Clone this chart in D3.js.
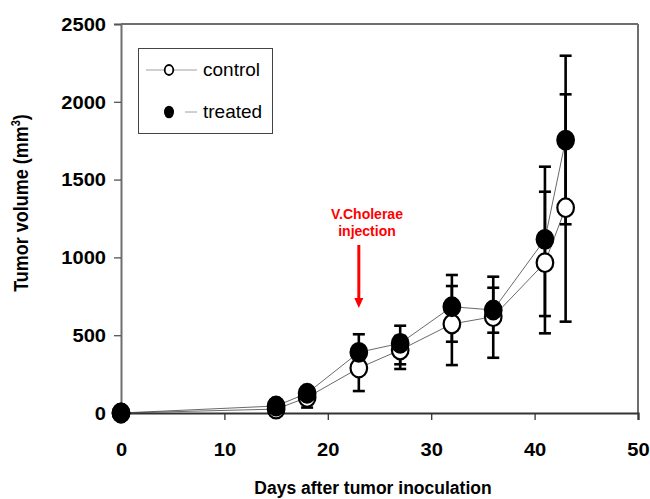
<!DOCTYPE html>
<html>
<head>
<meta charset="utf-8">
<script src="https://cdn.jsdelivr.net/npm/d3@7"></script>
<style>
  html, body { margin: 0; padding: 0; background: #fff; }
  svg { display: block; font-family: "Liberation Sans", Arial, sans-serif; }
</style>
</head>
<body>
<svg id="chart" width="650" height="499"></svg>
<script>
// ---- data ----
const days          = [0, 15, 18, 23, 27, 32, 36, 41, 43];
const controlMean   = [0, 25, 100, 289, 405, 572, 619, 966, 1319];
const controlUpper  = [0, 35, 150, 430, 495, 816, 805, 1422, 2048];
const controlLower  = [0, 15, 35, 141, 283, 308, 355, 512, 587];
const treatedMean   = [0, 45, 127, 390, 448, 683, 662, 1116, 1754];
const treatedUpper  = [0, 60, 165, 506, 561, 887, 876, 1583, 2296];
const treatedLower  = [0, 30, 95, 273, 313, 458, 516, 623, 1213];
const xTicks = [0, 10, 20, 30, 40, 50];
const yTicks = [0, 500, 1000, 1500, 2000, 2500];
const seriesNames = ["control", "treated"];
const injectionDay = 23;
const annotationLines = ["V.Cholerae", "injection"];
const xTitle = "Days after tumor inoculation";

const svg = d3.select("#chart");
const x = d3.scaleLinear().domain([0, 50]).range([121, 638]);
const y = d3.scaleLinear().domain([0, 2500]).range([413, 24]);

const control = days.map((d, i) => ({d, m: controlMean[i], hi: controlUpper[i], lo: controlLower[i]}));
const treated = days.map((d, i) => ({d, m: treatedMean[i], hi: treatedUpper[i], lo: treatedLower[i]}));

// frame (top & right)
svg.append("line").attr("x1", x(0)).attr("x2", x(50)).attr("y1", y(2500)).attr("y2", y(2500))
  .attr("stroke", "#6e6e6e").attr("stroke-width", 2);
svg.append("line").attr("x1", x(50)).attr("x2", x(50)).attr("y1", y(2500)).attr("y2", y(0))
  .attr("stroke", "#6e6e6e").attr("stroke-width", 2);

// y axis
const yAxis = svg.append("g").attr("transform", `translate(${x(0)},0)`)
  .call(d3.axisLeft(y).tickValues(yTicks).tickSize(7).tickPadding(0).tickFormat(d3.format("d")));
yAxis.select(".domain").attr("stroke", "#6e6e6e").attr("stroke-width", 2);
yAxis.selectAll(".tick line").attr("stroke", "#555").attr("stroke-width", 1.3);
yAxis.selectAll(".tick text")
  .attr("x", -15 / 1.15).attr("dy", "0.36em")
  .attr("transform", "scale(1.15,1)")
  .attr("font-size", 17.5).attr("font-weight", "bold").attr("fill", "#000")
  .attr("font-family", "'Liberation Sans', Arial, sans-serif");

// x axis
const xAxis = svg.append("g").attr("transform", `translate(0,${y(0)})`)
  .call(d3.axisBottom(x).tickValues(xTicks).tickSize(7).tickFormat(d3.format("d")));
xAxis.select(".domain").attr("stroke", "#333").attr("stroke-width", 2.2);
xAxis.selectAll(".tick line").attr("stroke", "#333").attr("stroke-width", 1.3);
xAxis.selectAll(".tick text")
  .attr("y", 43).attr("dy", 0).attr("x", 0)
  .attr("transform", "scale(1.15,1)")
  .attr("font-size", 17.5).attr("font-weight", "bold").attr("fill", "#000")
  .attr("font-family", "'Liberation Sans', Arial, sans-serif");

// axis titles
svg.append("text")
  .attr("transform", "translate(28,203) rotate(-90) scale(1,1.15)")
  .attr("text-anchor", "middle").attr("font-size", 18).attr("font-weight", "bold")
  .call(t => {
    t.append("tspan").text("Tumor volume (mm");
    t.append("tspan").attr("dy", -7).attr("font-size", 11).text("3");
    t.append("tspan").attr("dy", 7).text(")");
  });
svg.append("text").attr("x", 373).attr("y", 494).attr("text-anchor", "middle")
  .attr("font-size", 17.5).attr("font-weight", "bold").text(xTitle);

// connecting lines
const line = d3.line().x(p => x(p.d)).y(p => y(p.m));
[control, treated].forEach(s => {
  svg.append("path").datum(s).attr("d", line)
    .attr("fill", "none").attr("stroke", "#444").attr("stroke-width", 0.8);
});

// error bars
const capHalf = 6;
[control, treated].forEach(s => {
  const g = svg.append("g");
  s.filter(p => p.hi !== p.lo).forEach(p => {
    g.append("line").attr("x1", x(p.d)).attr("x2", x(p.d)).attr("y1", y(p.hi)).attr("y2", y(p.lo))
      .attr("stroke", "#000").attr("stroke-width", 2.6);
    [p.hi, p.lo].forEach(v => {
      g.append("line").attr("x1", x(p.d) - capHalf).attr("x2", x(p.d) + capHalf)
        .attr("y1", y(v)).attr("y2", y(v)).attr("stroke", "#000").attr("stroke-width", 2.6);
    });
  });
});

// markers
svg.append("g").selectAll("ellipse").data(control).join("ellipse")
  .attr("cx", p => x(p.d)).attr("cy", p => y(p.m)).attr("rx", 8.3).attr("ry", 9.3)
  .attr("fill", "#fff").attr("stroke", "#000").attr("stroke-width", 2.2);
svg.append("g").selectAll("ellipse").data(treated).join("ellipse")
  .attr("cx", p => x(p.d)).attr("cy", p => y(p.m)).attr("rx", 8.3).attr("ry", 9.3)
  .attr("fill", "#000").attr("stroke", "#000").attr("stroke-width", 2.2);

// annotation
const ax = x(injectionDay);
svg.append("line").attr("x1", ax).attr("x2", ax).attr("y1", 245).attr("y2", 300)
  .attr("stroke", "#ff0000").attr("stroke-width", 3);
svg.append("path").attr("d", `M${ax - 4.5},298 L${ax + 4.5},298 L${ax},308 Z`).attr("fill", "#ff0000");
annotationLines.forEach((t, i) => {
  svg.append("text").attr("x", 367).attr("y", 219 + i * 16.5).attr("text-anchor", "middle")
    .attr("font-size", 14).attr("font-weight", "bold").attr("fill", "#ff0000").text(t);
});

// legend
const lg = svg.append("g");
lg.append("rect").attr("x", 138.5).attr("y", 48.5).attr("width", 134).attr("height", 85)
  .attr("fill", "#fff").attr("stroke", "#444").attr("stroke-width", 1);
lg.append("line").attr("x1", 146).attr("x2", 197).attr("y1", 70).attr("y2", 70)
  .attr("stroke", "#888").attr("stroke-width", 0.8);
lg.append("ellipse").attr("cx", 169).attr("cy", 70).attr("rx", 4.3).attr("ry", 5)
  .attr("fill", "#fff").attr("stroke", "#000").attr("stroke-width", 1.8);
lg.append("line").attr("x1", 185).attr("x2", 197).attr("y1", 112).attr("y2", 112)
  .attr("stroke", "#888").attr("stroke-width", 0.8);
lg.append("ellipse").attr("cx", 169).attr("cy", 112).attr("rx", 5).attr("ry", 6.3)
  .attr("fill", "#000");
seriesNames.forEach((n, i) => {
  lg.append("text").attr("x", 203).attr("y", 75.5 + i * 42.5).attr("font-size", 19)
    .attr("fill", "#000").text(n);
});
</script>
</body>
</html>
